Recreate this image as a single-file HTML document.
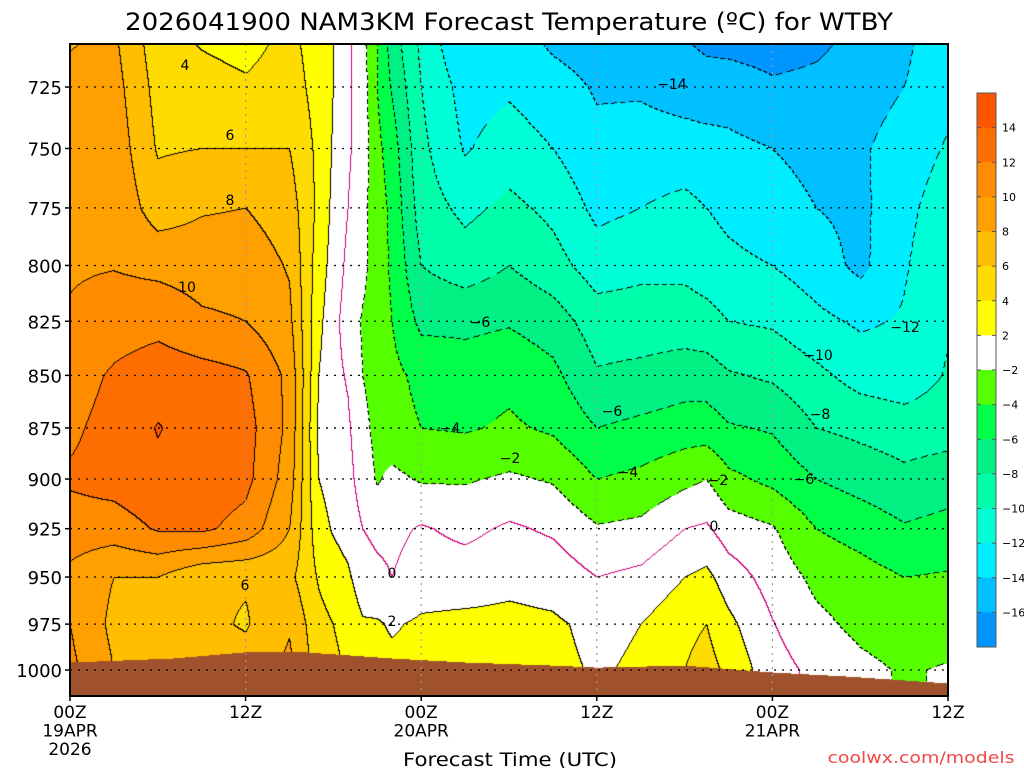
<!DOCTYPE html>
<html><head><meta charset="utf-8"><style>
html,body{margin:0;padding:0;background:#fff;width:1024px;height:768px;overflow:hidden}
#wrap{position:relative;width:1024px;height:768px}
canvas{position:absolute;left:70px;top:44px}
svg{position:absolute;left:0;top:0}
text{font-family:"DejaVu Sans","Liberation Sans",sans-serif;fill:#000}
</style></head><body>
<div id="wrap">
<canvas id="plot" width="878" height="652"></canvas>
<svg id="ov" width="1024" height="768">
<text x="509" y="30" font-size="24" text-anchor="middle" textLength="768" lengthAdjust="spacingAndGlyphs">2026041900 NAM3KM Forecast Temperature (ºC) for WTBY</text>
<text x="510" y="766" font-size="19" text-anchor="middle" textLength="214" lengthAdjust="spacingAndGlyphs">Forecast Time (UTC)</text>
<text x="921" y="763" font-size="16" text-anchor="middle" textLength="187" lengthAdjust="spacingAndGlyphs" style="fill:#f04848">coolwx.com/models</text>
<g id="grid"></g>
<g id="yax"></g>
<g id="xax"></g>
<g id="clabels"></g>
<g id="cbar"></g>
<rect x="70" y="44" width="878" height="652" fill="none" stroke="#000" stroke-width="2"/>
</svg>
</div>
<script>
// ---- data ----
const times = [0,3,6,9,12,15,17,18,19,20,21,22,24,27,30,33,36,39,42,43.5,45,48,51,54,57,60];
const pressures = [705,725,750,775,800,825,850,875,900,925,950,975,1000];
const t00=[7.8,8.5,9,9.5,9.8,10.2,11,11.6,12.3,11,9.5,10,10.5];
const t03=[8.3,8.8,9.3,9.6,9.9,11,12.3,12.8,12.8,11,8,7.5,8];
const t06=[4.8,5.3,5.8,7,9.5,11.3,13.2,14.1,13.6,12.2,8,6.8,7];
const t09=[3.7,4.8,6,7.8,9.2,10.3,12.8,13.2,13.3,12.4,6.3,6.5,7];
const t12=[3.2,4.3,6,8,9.2,10,12.2,12.8,12.6,11.2,6.2,5.8,7];
const t15=[4.5,5,6,7,7.8,8.5,9.5,9.5,9,8,6.5,7.8,8.5];
const t17=[3,3.2,3.5,3.5,3,2.5,2,1.6,2,2.8,3.8,4.6,5];
const t18=[2,2,1.8,1.5,1.2,0.7,0.6,0.8,1.2,1.8,3,4,4.5];
const t19=[0.5,0.3,0.3,0,-0.5,-1,-0.2,0.3,0.7,1.2,2.3,3.2,3.8];
const t20=[-1.5,-1,-1,-1.5,-1.5,-2.2,-2,-1.5,-1,0,1,2.2,3];
const t21=[-4,-4,-3.5,-3,-3,-3,-2.8,-2.5,-2.2,-0.5,0.5,2.2,2.5];
const t22=[-7,-6.2,-5,-4.5,-4.3,-4,-3.5,-3.2,-1.5,-0.5,0,1.8,2.5];
const t24=[-10.5,-10,-9.5,-9,-8,-6.5,-4.5,-4,-2.2,0.2,1,2.3,2.5];
const t27=[-14.2,-12.8,-12.2,-10.5,-9,-6.5,-5,-4.2,-2.2,-0.5,1,2.5,2.5];
const t30=[-13,-12.3,-11,-9.5,-8,-6.2,-4.5,-3.7,-1.7,0.3,1.5,2.5,2.5];
const t33=[-14.5,-13.2,-12,-10.5,-9.2,-7,-5.5,-4.3,-2.2,-0.3,1.2,2.3,2.5];
const t36=[-15,-14.2,-13.5,-12.5,-11,-9,-7.8,-6,-4,-1.8,0,1.5,1.8];
const t39=[-15.5,-14.3,-13,-12,-10.5,-9,-7.5,-5.5,-3.5,-1.5,0.5,2,2.3];
const t42=[-16,-15,-13,-11.5,-10.5,-9,-7,-5,-2.5,0,2,3.5,4];
const t43=[-16.5,-15.2,-13.2,-12,-11,-9.3,-7,-5,-2,0.3,2.5,4,4.8];
const t45=[-16.8,-15,-13.5,-12.5,-11.5,-10,-7.8,-5.8,-3.5,-1,1,2.5,3.5];
const t48=[-17,-15.7,-14,-13.3,-12,-10.3,-8.3,-6.2,-4.5,-1.8,-0.8,0.1,0.8];
const t51=[-16.5,-15.5,-14.5,-14,-13,-11.5,-9.5,-8,-6,-4,-2.5,-1.5,-0.5];
const t54=[-15.5,-15,-14.3,-14.5,-14.5,-12.3,-10.8,-8.5,-6.8,-4.8,-3.2,-2.5,-1.5];
const t57=[-14.5,-14,-13,-12.5,-12.2,-11.8,-11.2,-9,-7.5,-5.8,-4,-3,-2.2];
const t60=[-12.5,-12.5,-11.8,-11,-10.5,-10.2,-9.8,-8.8,-7,-5.3,-3.8,-3,-1.8];
const columns=[t00,t03,t06,t09,t12,t15,t17,t18,t19,t20,t21,t22,t24,t27,t30,t33,t36,t39,t42,t43,t45,t48,t51,t54,t57,t60];
const sfcTimes=[0,7,12,16,19,22,27,33,36,42,48,53,57,60];
const sfcPressure=[995.6,993.4,990,990,991.7,993.4,995.6,997.3,998.4,997.3,1001.1,1003.3,1005.5,1007.2];
const levels=[-16,-14,-12,-10,-8,-6,-4,-2,2,4,6,8,10,12,14];
const levelLabels=["14","12","10","8","6","4","2","-2","-4","-6","-8","-10","-12","-14","-16"];
const yTicks=[725,750,775,800,825,850,875,900,925,950,975,1000];
const xTickHours=[0,12,24,36,48,60];
const xTickLabels=[["00Z","19APR","2026"],["12Z"],["00Z","20APR"],["12Z"],["00Z","21APR"],["12Z"]];
const colors=['#0096ff','#00c0ff','#00ecff','#00ffd6','#00ffaa','#00f084','#00ff48','#55ff00','#ffffff','#ffff00','#ffdc00','#ffbe00','#ffa000','#ff8c00','#ff6e00','#ff5500'];

// ---- axes (log-pressure) ----
const X0=70,X1=948,Y0=44,Y1=696,TMAX=60,KP=1813;
function xOf(t){return X0+(X1-X0)*t/TMAX;}
function yOf(p){return 87+KP*(Math.log(p)-Math.log(725));}
function tOf(x){return (x-X0)*TMAX/(X1-X0);}
function pOf(y){return 725*Math.exp((y-87)/KP);}
function interp1(xs,ys,x){
  if(x<=xs[0])return ys[0];
  for(let i=1;i<xs.length;i++){if(x<=xs[i]){const f=(x-xs[i-1])/(xs[i]-xs[i-1]);return ys[i-1]+f*(ys[i]-ys[i-1]);}}
  return ys[ys.length-1];
}
function seg(xs,x){
  if(x<=xs[0])return [0,0,0];
  for(let i=1;i<xs.length;i++){if(x<=xs[i])return [i-1,i,(x-xs[i-1])/(xs[i]-xs[i-1])];}
  const n=xs.length-1;return [n,n,0];
}
function val(t,p){
  const [a,b,f]=seg(times,t);const [r,s,g]=seg(pressures,p);
  const va=columns[a][r]+(columns[a][s]-columns[a][r])*g;
  const vb=columns[b][r]+(columns[b][s]-columns[b][r])*g;
  return va+(vb-va)*f;
}
function band(v){let i=0;while(i<levels.length&&v>=levels[i])i++;return i;}
function hex(h){return [parseInt(h.substr(1,2),16),parseInt(h.substr(3,2),16),parseInt(h.substr(5,2),16)];}

const cv=document.getElementById('plot');const ctx=cv.getContext('2d');
const W=cv.width,H=cv.height;
const img=ctx.createImageData(W,H);
const V=new Float32Array(W*H),B=new Int16Array(W*H),G=new Uint8Array(W*H);
const rgb=colors.map(hex);
for(let x=0;x<W;x++){
  const t=tOf(x+X0);const sp=interp1(sfcTimes,sfcPressure,t);
  for(let y=0;y<H;y++){
    const p=pOf(y+Y0);const k=y*W+x;
    if(p>sp){G[k]=1;continue;}
    const v=val(t,p);V[k]=v;B[k]=band(v);
  }
}
for(let y=0;y<H;y++)for(let x=0;x<W;x++){
  const k=y*W+x;let c;
  if(G[k]){c=[160,82,45];}
  else{
    c=rgb[B[k]];
    const kr=x<W-1?k+1:k,kd=y<H-1?k+W:k;
    let line=null;
    for(const n of [kr,kd]){
      if(G[n]||n===k)continue;
      if(B[n]!==B[k]){const lv=levels[Math.min(B[n],B[k])];
        if(lv<0){if(((x+y)%8)<5)line=[0,0,0];}else line=[0,0,0];}
      else if((V[k]<0)!==(V[n]<0)&&Math.abs(V[k])<2){line=[208,0,122];}
    }
    if(line)c=line;
  }
  const o=k*4;img.data[o]=c[0];img.data[o+1]=c[1];img.data[o+2]=c[2];img.data[o+3]=255;
}
ctx.putImageData(img,0,0);

const NS='http://www.w3.org/2000/svg';
function mk(tag,attrs,parent,text){const e=document.createElementNS(NS,tag);for(const a in attrs)e.setAttribute(a,attrs[a]);if(text!==undefined)e.textContent=text;parent.appendChild(e);return e;}
const grid=document.getElementById('grid'),yax=document.getElementById('yax'),xax=document.getElementById('xax');
yTicks.forEach(p=>{
  const y=yOf(p);
  const gl=mk('line',{x1:X0,x2:X1,y1:y,y2:y,stroke:'#000','stroke-width':1.3,'stroke-dasharray':'2 6'},grid);
  
  
  const tk=mk('line',{x1:X0-5,x2:X0,y1:y,y2:y,stroke:'#000','stroke-width':1.5},yax);
  
  
  const tl=mk('text',{x:62,y:y+7,'font-size':18,'text-anchor':'end'},yax,String(p));
  
  
});
xTickHours.forEach((h,i)=>{
  const x=xOf(h);
  if(h>0&&h<TMAX){const gl=mk('line',{x1:x,x2:x,y1:Y0,y2:Y1,stroke:'#999','stroke-width':1.2,'stroke-dasharray':'2 5'},grid);
    
    }
  const tk=mk('line',{x1:x,x2:x,y1:Y1,y2:Y1+5,stroke:'#000','stroke-width':1.5},xax);
  
  
  xTickLabels[i].forEach((s,j)=>{
    const tl=mk('text',{x:x,y:718+j*18.5,'font-size':17,'text-anchor':'middle'},xax,s);
    
    
  });
});
// contour labels
const cl=[["4",185,65],["6",230,135],["8",230,200],["10",187,287],["6",245,585],["0",392,573],["2",392,621],["-6",480,322],["-4",450,428],["-2",510,458],["-14",672,84],["-12",905,327],["-10",818,355],["-8",820,414],["-6",804,479],["-6",612,411],["-4",628,472],["-2",718,480],["0",714,526]];
const clg=document.getElementById('clabels');
cl.forEach(c=>{
  const t=mk('text',{x:c[1],y:c[2]+5,'font-size':14,'text-anchor':'middle'},clg,c[0].replace('-','\u2212'));
  
  
});
// colorbar
const cb=document.getElementById('cbar');const cbTop=93,cbBot=647,nb=colors.length,bh=(cbBot-cbTop)/nb;
for(let i=0;i<nb;i++){
  const r=mk('rect',{x:977,y:cbTop+i*bh,width:19,height:bh+0.5,fill:colors[nb-1-i]},cb);
  
  
}
mk('rect',{x:977,y:cbTop,width:19,height:cbBot-cbTop,fill:'none',stroke:'#555','stroke-width':1},cb);
levelLabels.forEach((s,i)=>{
  const y=cbTop+(i+1)*bh;
  mk('line',{x1:977,x2:981,y1:y,y2:y,stroke:'#555'},cb);
  mk('line',{x1:992,x2:996,y1:y,y2:y,stroke:'#555'},cb);
  const t=mk('text',{x:1002,y:y+4,'font-size':11},cb,s.replace('-','\u2212'));
  
  
});
</script>
</body></html>
